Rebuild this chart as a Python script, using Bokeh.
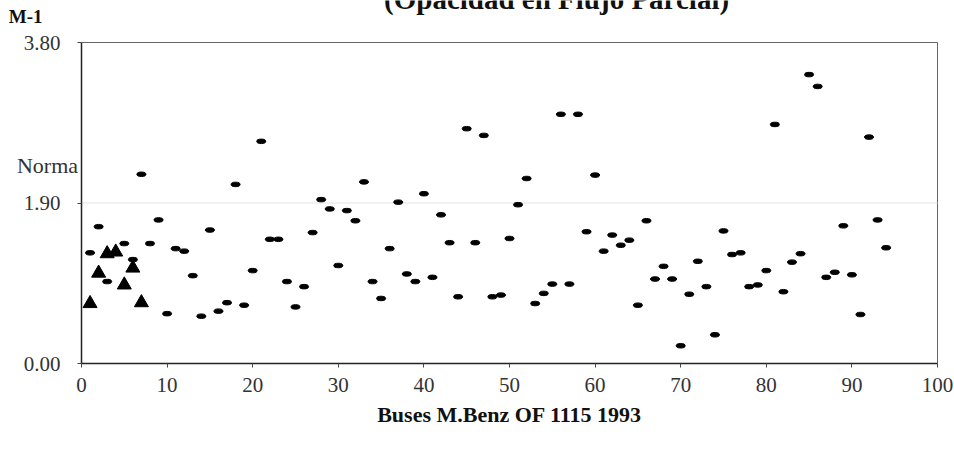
from bokeh.plotting import figure
from bokeh.models import FixedTicker, Range1d, Label, PrintfTickFormatter, LinearAxis
from bokeh.embed import file_html
from bokeh.resources import INLINE

# ---- data ----
dash_x = [1, 2, 3] + list(range(5, 95))
dash_y = [1.31, 1.62, 0.97,
          1.42, 1.23, 2.24, 1.42, 1.70, 0.59, 1.36, 1.33, 1.04, 0.56,
          1.58, 0.62, 0.72, 2.12, 0.69, 1.10, 2.63, 1.47, 1.47, 0.97,
          0.67, 0.91, 1.55, 1.94, 1.83, 1.16, 1.81, 1.69, 2.15, 0.97,
          0.77, 1.36, 1.91, 1.06, 0.97, 2.01, 1.02, 1.76, 1.43, 0.79,
          2.78, 1.43, 2.70, 0.79, 0.81, 1.48, 1.88, 2.19, 0.71, 0.83,
          0.94, 2.95, 0.94, 2.95, 1.56, 2.23, 1.33, 1.52, 1.40, 1.46,
          0.69, 1.69, 1.00, 1.15, 1.00, 0.21, 0.82, 1.21, 0.91, 0.34,
          1.57, 1.29, 1.31, 0.91, 0.93, 1.10, 2.83, 0.85, 1.20, 1.30,
          3.42, 3.28, 1.02, 1.08, 1.63, 1.05, 0.58, 2.68, 1.70, 1.37]
tri_x = [1, 2, 3, 4, 5, 6, 7]
tri_y = [0.71, 1.07, 1.30, 1.32, 0.93, 1.13, 0.72]

x_ticks = [0, 10, 20, 30, 40, 50, 60, 70, 80, 90, 100]
y_ticks = [0.0, 1.90, 3.80]
norma_y = 2.34

title_text = "(Opacidad en Flujo Parcial)"
x_title = "Buses M.Benz OF 1115 1993"
y_title = "M-1"

FONT = "Liberation Serif"

# the plotting frame covers the whole canvas; the axes sit at x=0 / y=0
W, H = 954, 449
LEFT_PX, RIGHT_PX, TOP_PX, BOTTOM_PX = 81, 937, 42, 363
xs = (RIGHT_PX - LEFT_PX) / (x_ticks[-1] - x_ticks[0])
ys = (BOTTOM_PX - TOP_PX) / (y_ticks[-1] - y_ticks[0])
x_rng = Range1d(x_ticks[0] - LEFT_PX / xs, x_ticks[-1] + (W - RIGHT_PX) / xs)
y_rng = Range1d(y_ticks[0] - (H - BOTTOM_PX) / ys, y_ticks[-1] + TOP_PX / ys)

p = figure(width=W, height=H, output_backend="svg", toolbar_location=None,
           x_range=x_rng, y_range=y_rng,
           x_axis_location=None, y_axis_location=None,
           min_border=0, background_fill_color="white",
           border_fill_color="white")
p.outline_line_color = None
p.grid.visible = False

# frame (top / right edges) and the 1.90 gridline
p.line(x=[x_ticks[0], x_ticks[-1], x_ticks[-1]],
       y=[y_ticks[-1], y_ticks[-1], y_ticks[0]],
       line_color="#666666", line_width=1)
p.segment(x0=[x_ticks[0]], x1=[x_ticks[-1]], y0=[y_ticks[1]], y1=[y_ticks[1]],
          line_color="#e4e4e4", line_width=1)

# axes fixed at 0
xaxis = LinearAxis(fixed_location=y_ticks[0], bounds=(x_ticks[0], x_ticks[-1]),
                   ticker=FixedTicker(ticks=x_ticks))
yaxis = LinearAxis(fixed_location=x_ticks[0], bounds=(y_ticks[0], y_ticks[-1]),
                   ticker=FixedTicker(ticks=y_ticks),
                   formatter=PrintfTickFormatter(format="%.2f"))
for ax in (xaxis, yaxis):
    ax.axis_line_color = "#222222"
    ax.axis_line_width = 1.5
    ax.major_tick_line_color = "#444444"
    ax.major_tick_in = 0
    ax.major_tick_out = 4
    ax.minor_tick_line_color = None
    ax.major_label_text_font = FONT
    ax.major_label_text_font_size = "21px"
    ax.major_label_text_color = "#333333"
xaxis.major_label_standoff = 10
yaxis.major_label_standoff = 17
xaxis.axis_label = x_title
xaxis.axis_label_text_font = FONT
xaxis.axis_label_text_font_size = "22px"
xaxis.axis_label_text_font_style = "bold"
xaxis.axis_label_text_color = "#111111"
xaxis.axis_label_standoff = 7
p.add_layout(xaxis, "below")
p.add_layout(yaxis, "left")

# marks
p.ellipse(x=dash_x, y=dash_y, width=9, height=4.5, width_units="screen",
          height_units="screen", fill_color="black", line_color="black")
p.scatter(x=tri_x, y=tri_y, marker="triangle", size=14,
          fill_color="black", line_color="black")

# annotations
p.add_layout(Label(x=-0.4, y=norma_y, text="Norma", text_align="right",
                   text_baseline="middle", text_font=FONT,
                   text_font_size="22px", text_color="#333333"))
p.add_layout(Label(x=-8.5, y=4.108, text=y_title, text_align="left",
                   text_baseline="middle", text_font=FONT,
                   text_font_size="19px", text_font_style="bold",
                   text_color="#111111"))
p.add_layout(Label(x=55.5, y=4.315, text=title_text, text_align="center",
                   text_baseline="middle", text_font=FONT,
                   text_font_size="29px", text_font_style="bold",
                   text_color="#111111"))

open("out.html", "w").write(file_html(p, INLINE))
